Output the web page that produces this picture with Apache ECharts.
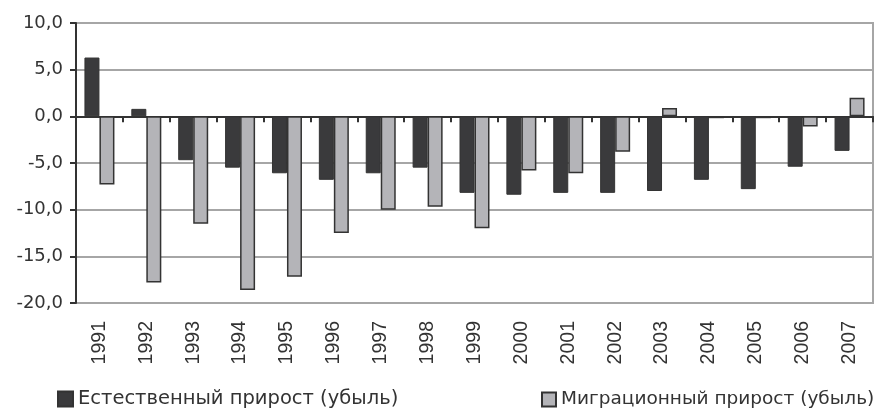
<!DOCTYPE html>
<html>
<head>
<meta charset="utf-8">
<script src="https://cdn.jsdelivr.net/npm/echarts@6/dist/echarts.min.js"></script>
<style>
html,body{margin:0;padding:0;background:#fff;}
#chart{width:880px;height:410px;}
</style>
</head>
<body>
<div id="chart"></div>
<script>
const years = ['1991','1992','1993','1994','1995','1996','1997','1998','1999','2000','2001','2002','2003','2004','2005','2006','2007'];
const naturalGrowth = [6.3, 0.8, -4.7, -5.5, -6.1, -6.8, -6.1, -5.5, -8.2, -8.4, -8.2, -8.2, -8.0, -6.8, -7.8, -5.4, -3.7];
const migrationGrowth = [-7.3, -17.8, -11.5, -18.6, -17.2, -12.5, -10.0, -9.7, -12.0, -5.8, -6.1, -3.8, 0.9, -0.2, -0.2, -1.1, 2.0];
const naturalName = 'Естественный прирост (убыль)';
const migrationName = 'Миграционный прирост (убыль)';

const FONT = '"Liberation Sans", Arial, sans-serif';
const WIDE = '"DejaVu Sans", sans-serif';
const chart = echarts.init(document.getElementById('chart'));
chart.setOption({
  animation: false,
  backgroundColor: '#fff',
  textStyle: { fontFamily: FONT },
  grid: { left: 76, right: 7, top: 23, bottom: 107, show: true, borderColor: '#a6a6a6', borderWidth: 2, backgroundColor: 'transparent' },
  legend: [
    { data: [naturalName], left: 52, top: 384, icon: 'rect', itemWidth: 15, itemHeight: 15,
      textStyle: { fontFamily: WIDE, fontSize: 19.5, color: '#333' } },
    { data: [migrationName], left: 536, top: 385, icon: 'rect', itemWidth: 14, itemHeight: 14,
      textStyle: { fontFamily: WIDE, fontSize: 18.5, color: '#333' } }
  ],
  xAxis: [
    { type: 'category', data: years, position: 'bottom',
      axisLine: { show: false, onZero: false },
      axisTick: { show: false },
      axisLabel: { rotate: 90, fontSize: 19.5, color: '#333', margin: 18, fontFamily: FONT },
      splitLine: { show: false } },
    { type: 'category', data: years, position: 'bottom',
      axisLine: { show: true, onZero: true, onZeroAxisIndex: 0, lineStyle: { color: '#333', width: 2 } },
      axisTick: { show: true, length: 6, lineStyle: { color: '#333', width: 2 } },
      axisLabel: { show: false },
      splitLine: { show: false } }
  ],
  yAxis: {
    type: 'value', min: -20, max: 10, interval: 5,
    axisLine: { show: true, onZero: false, lineStyle: { color: '#333', width: 2 } },
    axisTick: { show: true, length: 6, lineStyle: { color: '#333', width: 2 } },
    axisLabel: { fontSize: 18, color: '#333', margin: 13, fontFamily: WIDE,
      formatter: v => v.toFixed(1).replace('.', ',') },
    splitLine: { show: true, lineStyle: { color: '#a6a6a6', width: 2 } }
  },
  series: [
    { name: naturalName, type: 'bar', xAxisIndex: 0, data: naturalGrowth, barWidth: 15, barGap: '0%',
      itemStyle: { color: '#3a3a3c', borderColor: '#333', borderWidth: 1 } },
    { name: migrationName, type: 'bar', xAxisIndex: 0, data: migrationGrowth, barWidth: 15, barGap: '0%',
      itemStyle: { color: '#b4b4b8', borderColor: '#333', borderWidth: 1.5 } }
  ]
});
</script>
</body>
</html>
